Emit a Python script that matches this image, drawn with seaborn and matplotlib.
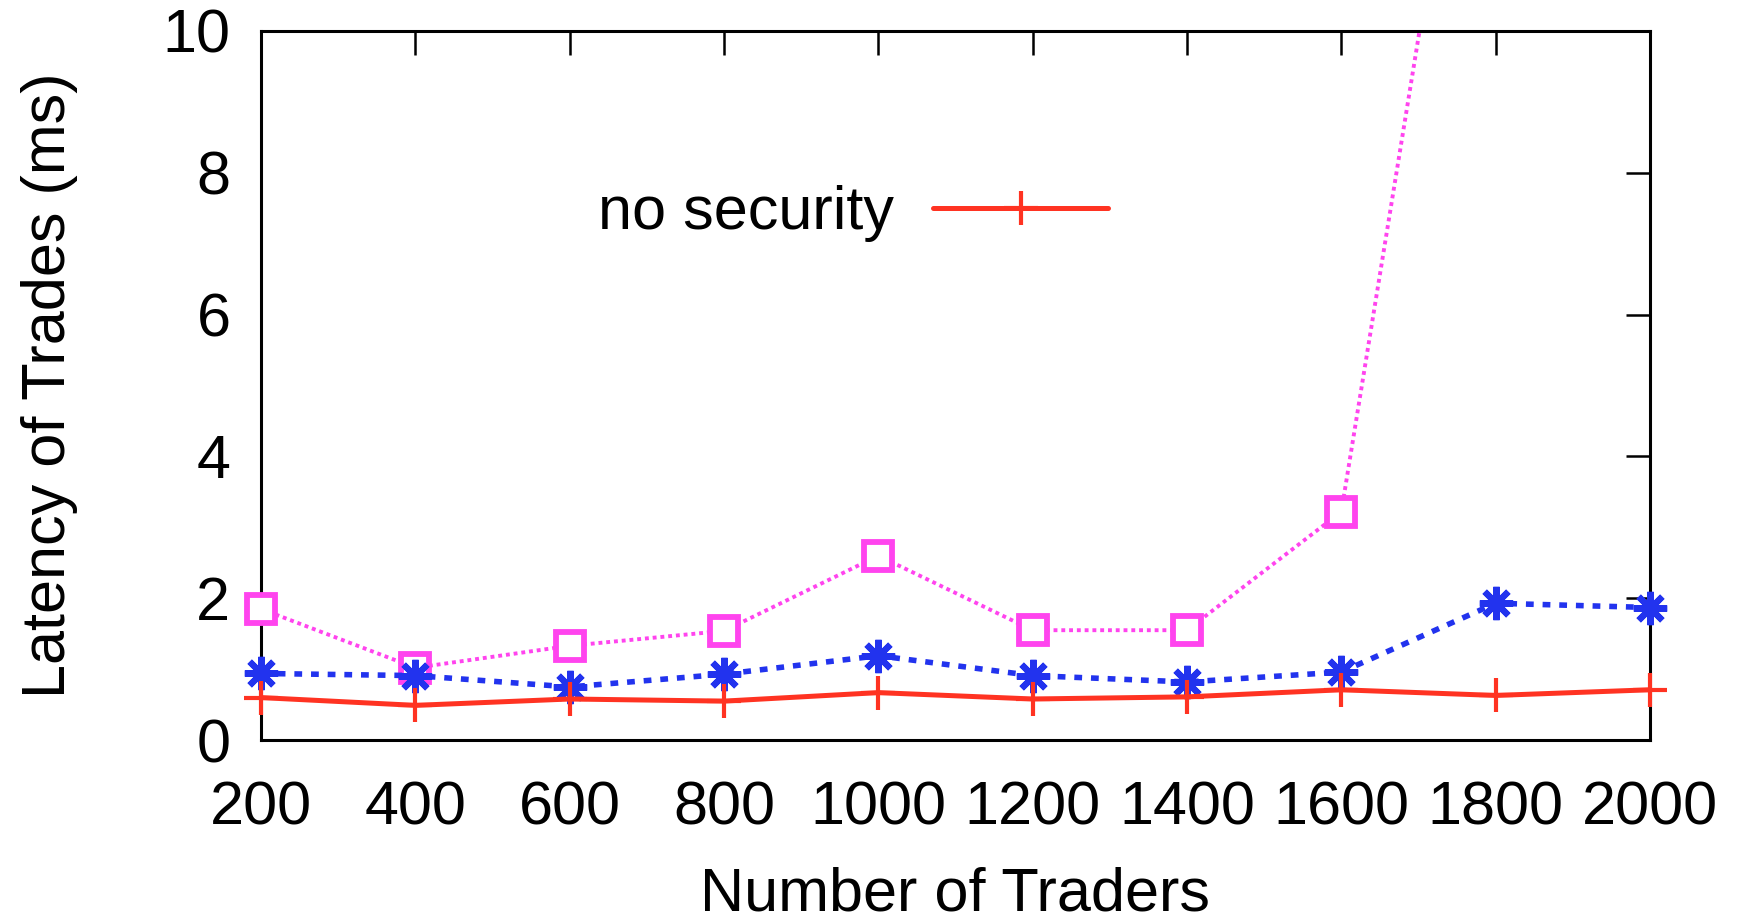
import numpy as np
import pandas as pd
import matplotlib
matplotlib.use("Agg")
import matplotlib.pyplot as plt
import matplotlib.transforms as mtransforms
import seaborn as sns

traders = [200, 400, 600, 800, 1000, 1200, 1400, 1600, 1800, 2000]
no_security = [0.60, 0.49, 0.58, 0.55, 0.67, 0.58, 0.61, 0.71, 0.63, 0.71]
series_blue = [0.94, 0.91, 0.75, 0.93, 1.19, 0.91, 0.82, 0.96, 1.93, 1.87]
series_pink = [1.85, 1.02, 1.33, 1.54, 2.60, 1.55, 1.55, 3.22, 16.6, 20.0]
xticks = [200, 400, 600, 800, 1000, 1200, 1400, 1600, 1800, 2000]
yticks = [0, 2, 4, 6, 8, 10]

sns.set_theme(style="white")
plt.rcParams['font.family'] = ['Liberation Sans', 'DejaVu Sans']
plt.rcParams['text.color'] = 'black'
plt.rcParams['axes.labelcolor'] = 'black'
plt.rcParams['xtick.color'] = 'black'
plt.rcParams['ytick.color'] = 'black'

fig = plt.figure(figsize=(17.46, 9.24), dpi=100)
ax = fig.add_axes([0.1495, 0.199, 0.7955, 0.7675])

red = '#ff3322'
blue = '#2233ee'
pink = '#ff44ee'

df = pd.DataFrame({'x': traders, 'red': no_security, 'blue': series_blue, 'pink': series_pink})

sns.lineplot(data=df, x='x', y='pink', ax=ax, color=pink, lw=2.8,
             marker='s', markersize=20, markeredgewidth=4.2, markerfacecolor='white',
             markeredgecolor=pink, label='_nolegend_', zorder=2)
ax.lines[-1].set_dashes([1.0, 1.0])
sns.lineplot(data=df, x='x', y='blue', ax=ax, color=blue, lw=4.0,
             marker=(8, 2, 0), markersize=24, markeredgewidth=4.5,
             markeredgecolor=blue, label='_nolegend_', zorder=3)
ax.lines[-1].set_dashes([1.4, 1.6])
sns.lineplot(data=df, x='x', y='red', ax=ax, color=red, lw=3.6,
             marker='+', markersize=24, markeredgewidth=3.0,
             markeredgecolor=red, label='no security', zorder=4)

clip = mtransforms.TransformedBbox(mtransforms.Bbox([[-0.05, -0.05], [1.05, 1.0]]), ax.transAxes)
for ln in ax.lines:
    ln.set_clip_box(clip)

ax.set_xlim(200, 2000)
ax.set_ylim(0, 10)
ax.set_xticks(xticks)
ax.set_yticks(yticks)
ax.set_xticklabels([str(v) for v in xticks])
ax.set_yticklabels([str(v) for v in yticks])

for s in ax.spines.values():
    s.set_visible(True)
    s.set_color('black')
    s.set_linewidth(2.2)
    s.set_zorder(1)

ax.tick_params(axis='both', which='major', direction='in', length=17, width=1.8,
               colors='black', labelsize=44, top=True, right=True, pad=22)
ax.tick_params(axis='x', pad=29)

ax.set_xlabel('Number of Traders', fontsize=44, color='black')
ax.set_ylabel('Latency of Trades (ms)', fontsize=44, color='black')
ax.xaxis.set_label_coords(0.5, -0.178)
ax.yaxis.set_label_coords(-0.132, 0.5)

leg = ax.legend(loc='center', bbox_to_anchor=(0.426, 0.742), frameon=False,
                fontsize=44, markerfirst=False, handlelength=2.85, handletextpad=0.65)
for t in leg.get_texts():
    t.set_color('black')

fig.savefig('out.png', dpi=100, facecolor='white')
